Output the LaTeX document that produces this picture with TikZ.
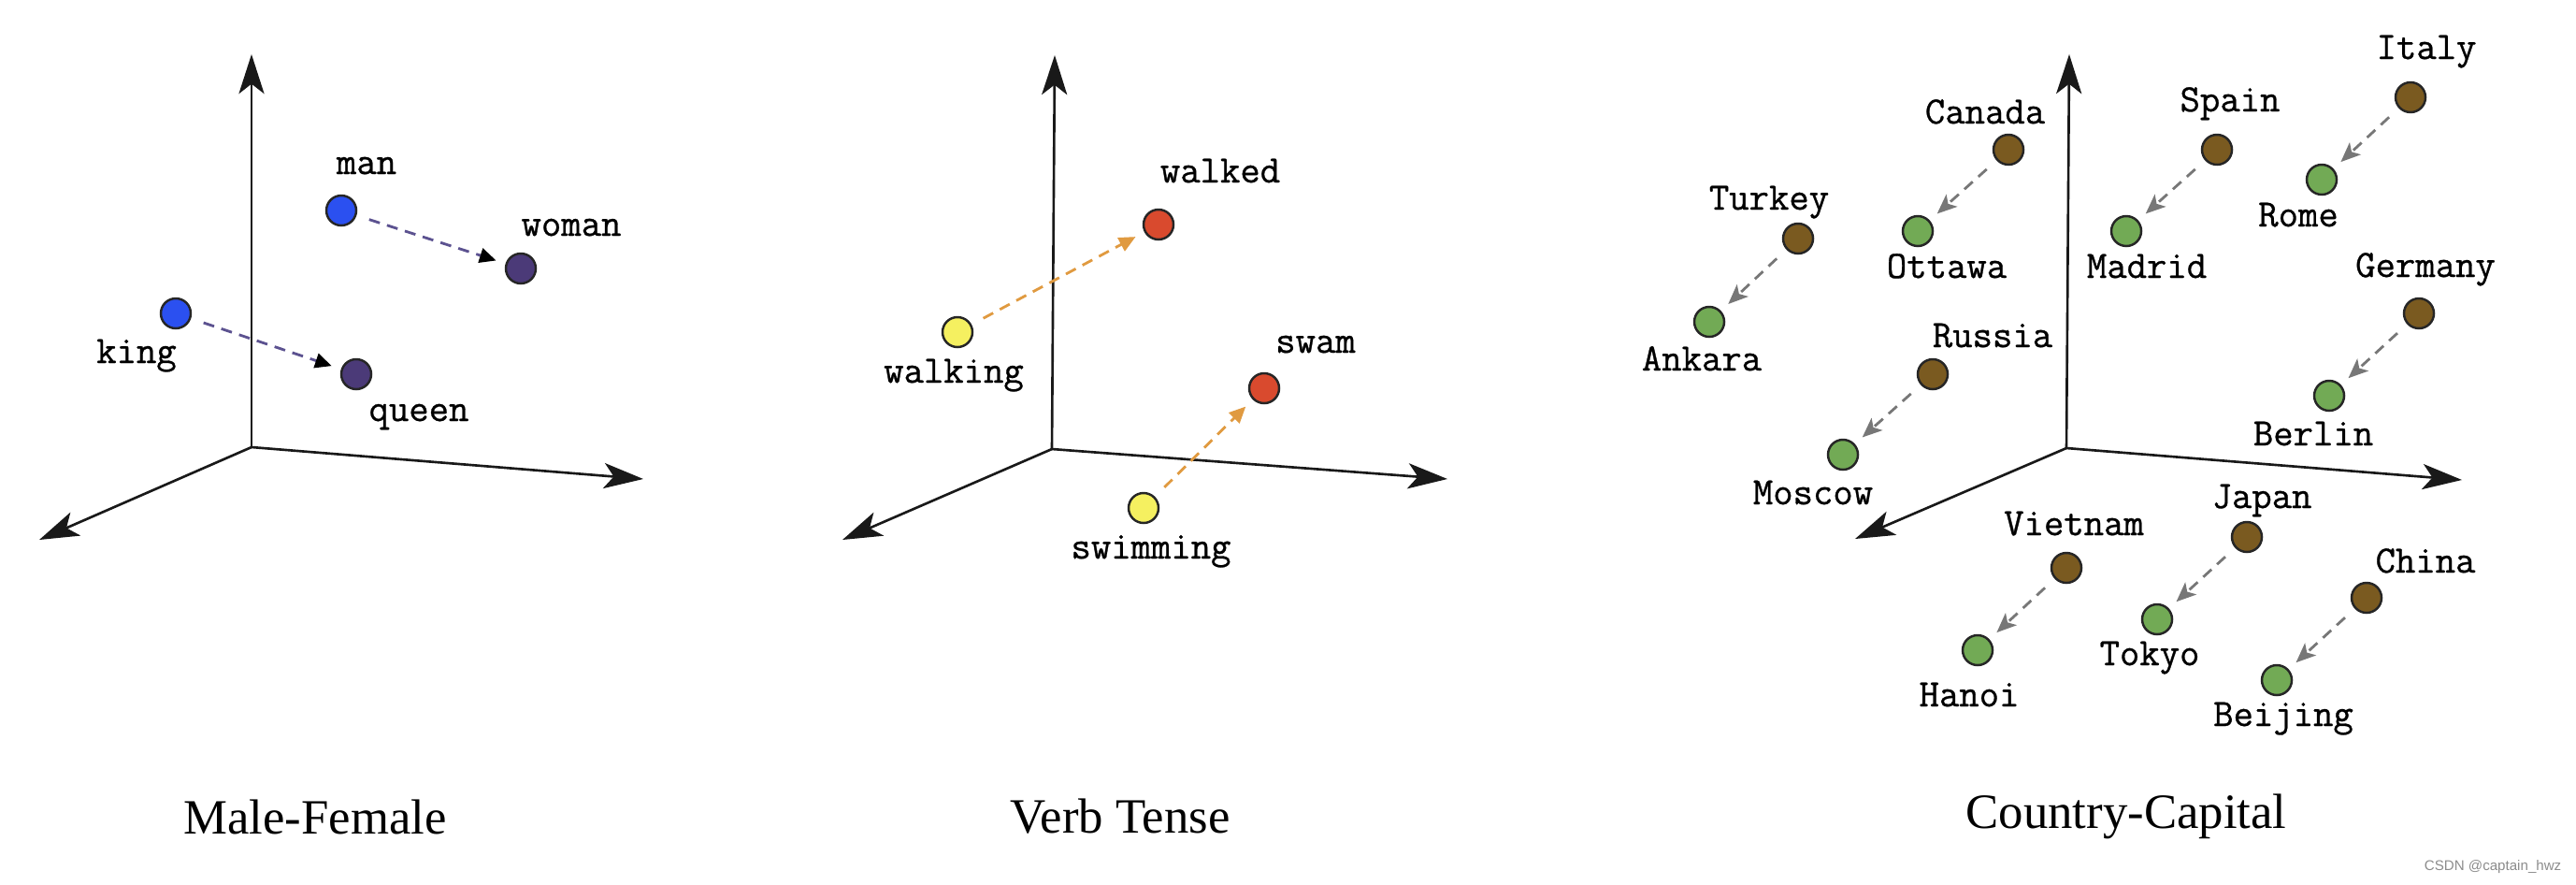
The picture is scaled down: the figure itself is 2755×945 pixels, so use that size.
\documentclass[tikz,border=0pt]{standalone}
\usepackage{fontspec}
\setmainfont{Liberation Serif}
\setsansfont{Liberation Sans}
\newfontfamily\lblfont{Latin Modern Mono}[FakeBold=0.7]
\usetikzlibrary{arrows.meta}
\definecolor{dblue}{HTML}{2B50F0}
\definecolor{dpurple}{HTML}{4B3A78}
\definecolor{lpurple}{HTML}{5C5290}
\definecolor{dyellow}{HTML}{F5F060}
\definecolor{dred}{HTML}{D94A2E}
\definecolor{dorange}{HTML}{E09A40}
\definecolor{dbrown}{HTML}{7A5A20}
\definecolor{dgreen}{HTML}{72AA55}
\definecolor{dgray}{HTML}{777777}
\begin{document}
\begin{tikzpicture}[x=0.01cm,y=-0.01cm,
  axis/.style={line width=0.75pt,black!90,-{Stealth[length=12pt,width=7.7pt,inset=3pt]}},
  dot/.style={circle,draw=black!85,line width=0.7pt,minimum size=0.32cm,inner sep=0pt},
  lbl/.style={font=\lblfont\fontsize{11.8pt}{13pt}\selectfont,inner sep=0pt,text height=1.3ex,text depth=0.3ex},
  captxt/.style={font=\fontsize{15pt}{18pt}\selectfont,inner sep=0pt},
  vec/.style={line width=0.8pt,dash pattern=on 3.4pt off 2.3pt,shorten <=4pt,shorten >=3pt},
  mf/.style={vec,lpurple,-{Triangle[length=5pt,width=4.5pt,black]}},
  vt/.style={vec,dorange,-{Triangle[length=5pt,width=4.5pt]}},
  cc/.style={vec,dgray,-{Stealth[length=6pt,width=5pt,inset=1.5pt]}}]
\useasboundingbox (0,0) rectangle (2755,945);

% ---------- Panel 1: Male-Female
\coordinate (o1) at (269,478);
\coordinate (u1) at (269,58);
\coordinate (r1) at (688,512);
\coordinate (l1) at (42,577);
\draw[axis] (o1) -- (u1);
\draw[axis] (o1) -- (r1);
\draw[axis] (o1) -- (l1);
\node[dot,fill=dblue] (man) at (365,225) {};
\node[dot,fill=dpurple] (woman) at (557,287) {};
\node[dot,fill=dblue] (king) at (188,335) {};
\node[dot,fill=dpurple] (queen) at (381,400) {};
\node[lbl] (tman) at (392,178) {man};
\node[lbl] (twoman) at (611,244) {woman};
\node[lbl] (tking) at (146,380) {king};
\node[lbl] (tqueen) at (448,442) {queen};
\draw[mf] (man) -- (woman);
\draw[mf] (king) -- (queen);
\node[captxt] (c1) at (337,873) {Male-Female};

% ---------- Panel 2: Verb Tense
\coordinate (o2) at (1125,480);
\coordinate (u2) at (1128,59);
\coordinate (r2) at (1548,512);
\coordinate (l2) at (901,577);
\draw[axis] (o2) -- (u2);
\draw[axis] (o2) -- (r2);
\draw[axis] (o2) -- (l2);
\node[dot,fill=dred] (walked) at (1239,240) {};
\node[dot,fill=dyellow] (walking) at (1024,355) {};
\node[dot,fill=dred] (swam) at (1352,415) {};
\node[dot,fill=dyellow] (swimming) at (1223,543) {};
\node[lbl] (twalked) at (1305,187) {walked};
\node[lbl] (twalking) at (1020,401) {walking};
\node[lbl] (tswam) at (1407,369) {swam};
\node[lbl] (tswimming) at (1231,589) {swimming};
\draw[vt] (walking) -- (walked);
\draw[vt] (swimming) -- (swam);
\node[captxt] (c2) at (1198,873) {Verb Tense};

% ---------- Panel 3: Country-Capital
\coordinate (o3) at (2210,479);
\coordinate (u3) at (2213,58);
\coordinate (r3) at (2633,513);
\coordinate (l3) at (1984,576);
\draw[axis] (o3) -- (u3);
\draw[axis] (o3) -- (r3);
\draw[axis] (o3) -- (l3);
\foreach \c/\cx/\cy/\cl/\clx/\cly/\p/\px/\py/\pl/\plx/\ply in {
  italy/2578/104/Italy/2595/55/rome/2483/192/Rome/2458/234,
  spain/2371/160/Spain/2385/111/madrid/2274/247/Madrid/2296/289,
  canada/2148/160/Canada/2123/124/ottawa/2051/247/Ottawa/2082/289,
  turkey/1923/255/Turkey/1892/216/ankara/1828/344/Ankara/1820/388,
  russia/2067/400/Russia/2131/363/moscow/1971/486/Moscow/1939/531,
  germany/2587/335/Germany/2594/288/berlin/2491/423/Berlin/2474/468,
  japan/2403/574/Japan/2419/535/tokyo/2307/662/Tokyo/2299/703,
  vietnam/2210/607/Vietnam/2218/564/hanoi/2115/695/Hanoi/2106/747,
  china/2531/639/China/2594/604/beijing/2435/727/Beijing/2442/768}{
  \node[dot,fill=dbrown] (\c) at (\cx,\cy) {};
  \node[dot,fill=dgreen] (\p) at (\px,\py) {};
  \node[lbl] (t\c) at (\clx,\cly) {\cl};
  \node[lbl] (t\p) at (\plx,\ply) {\pl};
  \draw[cc] (\c) -- (\p);
}
\node[captxt] (c3) at (2274,873) {Country-Capital};

\node[font=\sffamily\fontsize{4.3pt}{5pt}\selectfont,text=black!45,inner sep=0pt,anchor=east] (wm) at (2740,927) {CSDN @captain\_hwz};
\end{tikzpicture}
\end{document}
